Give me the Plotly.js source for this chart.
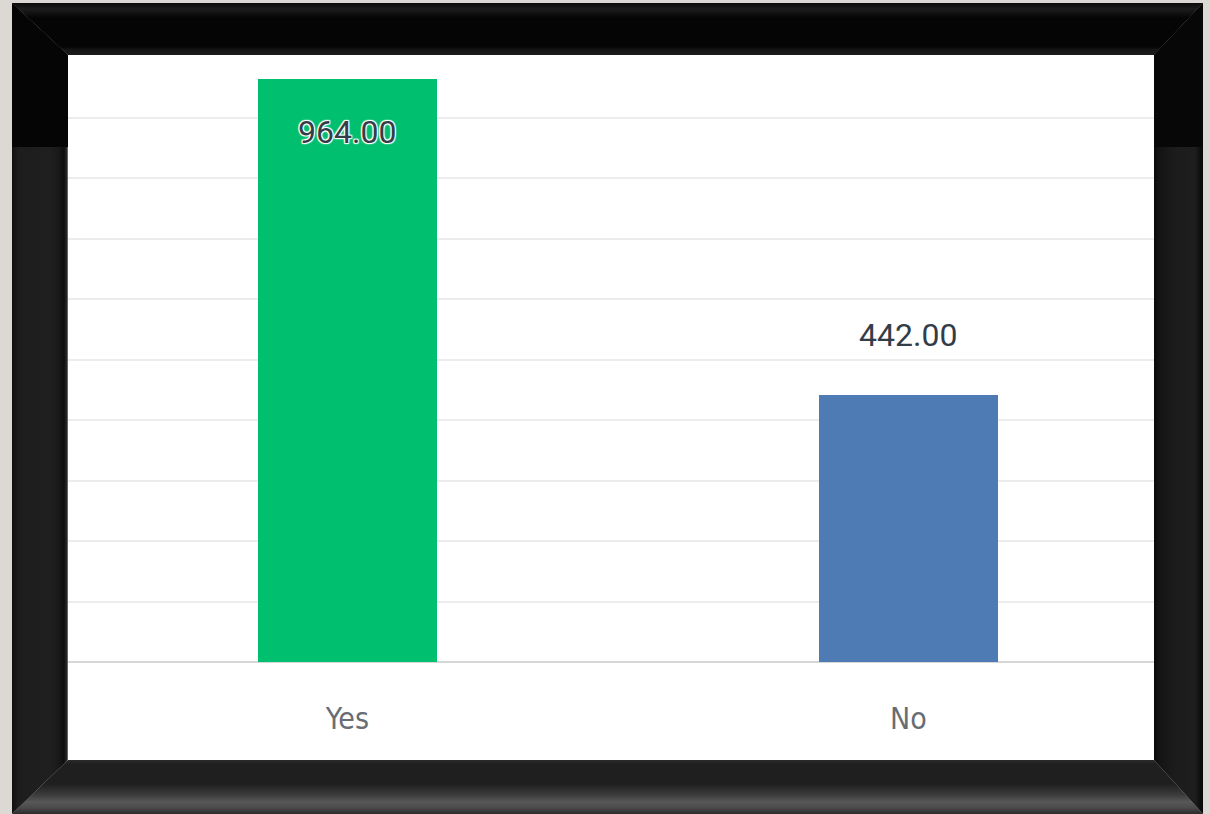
<!DOCTYPE html>
<html>
<head>
<meta charset="utf-8">
<script src="https://cdn.plot.ly/plotly-3.0.1.min.js"></script>
<style>
  html, body { margin: 0; padding: 0; width: 1210px; height: 814px; overflow: hidden; background: #dcd9d4; }
  .piece { position: absolute; left: 0; top: 0; width: 1210px; height: 814px; }
  #top {
    clip-path: polygon(12px 3px, 1203px 3px, 1154px 55px, 68px 55px);
    background: linear-gradient(to bottom, #0a0a0a 3px, #1c1c1c 9px, #121212 13px, #050505 18px, #050505 47px, #161616 50px, #1c1c1c 55px);
  }
  #bottom {
    clip-path: polygon(12px 814px, 1203px 814px, 1154px 760px, 68px 760px);
    background: linear-gradient(to bottom, #2b2b2b 760px, #1f1f1f 764px, #1f1f1f 784px, #3c3c3c 795px, #585858 802px, #4a4a4a 808px, #2a2a2a 814px);
  }
  #left {
    clip-path: polygon(12px 3px, 68px 55px, 68px 760px, 12px 814px);
    background:
      linear-gradient(to bottom, #050505 0px, #050505 147px, transparent 147px),
      linear-gradient(to right, #111 12px, #1d1d1d 18px, #1f1f1f 50px, #1a1a1a 58px, #0e0e0e 64px, #2a2a2a 67px, #9a9a9a 68px);
  }
  #right {
    clip-path: polygon(1203px 3px, 1154px 55px, 1154px 760px, 1203px 814px);
    background:
      linear-gradient(to bottom, #070707 0px, #070707 147px, transparent 147px),
      linear-gradient(to right, #0a0a0a 1154px, #141414 1160px, #1c1c1c 1175px, #1e1e1e 1195px, #0c0c0c 1201px, #0a0a0a 1203px);
  }
  #chart { position: absolute; left: 68px; top: 55px; width: 1086px; height: 705px; background: #fff; }
</style>
</head>
<body>
<div class="piece" id="top"></div>
<div class="piece" id="bottom"></div>
<div class="piece" id="left"></div>
<div class="piece" id="right"></div>
<div id="chart"></div>
<script>
  const categories = ["Yes", "No"];
  const values = [964, 442];
  const barColors = ["#00bf6f", "#4f7bb5"];
  const gridValues = [100, 200, 300, 400, 500, 600, 700, 800, 900];

  const halo = "1px 1px 1px #fff, -1px -1px 1px #fff, 1px -1px 1px #fff, -1px 1px 1px #fff, 0 0 2px #fff";

  const annotations = categories.map((c, i) => ({
    x: c,
    y: values[i],
    xref: "x",
    yref: "y",
    text: values[i].toFixed(2),
    showarrow: false,
    yanchor: "middle",
    yshift: i === 0 ? -53 : 60,
    font: {
      family: "Roboto, 'Liberation Sans', Arial, sans-serif",
      size: 32,
      color: "#333d47",
      shadow: i === 0 ? halo : "none"
    }
  }));

  const trace = {
    type: "bar",
    x: categories,
    y: values,
    width: 0.319,
    marker: { color: barColors, line: { width: 0 } },
    hoverinfo: "x+y"
  };

  const layout = {
    width: 1086,
    height: 705,
    margin: { l: 0, r: 0, t: 0, b: 98, pad: 0 },
    paper_bgcolor: "#ffffff",
    plot_bgcolor: "#ffffff",
    showlegend: false,
    bargap: 0,
    xaxis: {
      type: "category",
      range: [-0.498, 1.438],
      showgrid: false,
      zeroline: false,
      showline: false,
      ticks: "",
      ticklabelstandoff: 36,
      tickfont: { family: "'Liberation Sans Narrow', 'DejaVu Sans Condensed', Roboto, sans-serif", size: 30, color: "#686d73" },
      fixedrange: true
    },
    yaxis: {
      range: [0, 1004],
      tickmode: "array",
      tickvals: gridValues,
      showticklabels: false,
      showgrid: true,
      gridcolor: "#ececec",
      gridwidth: 2,
      zeroline: true,
      zerolinecolor: "#d6d6d6",
      zerolinewidth: 2,
      showline: false,
      ticks: "",
      fixedrange: true
    },
    annotations: annotations
  };

  Plotly.newPlot("chart", [trace], layout, { displayModeBar: false, staticPlot: true });
</script>
</body>
</html>
